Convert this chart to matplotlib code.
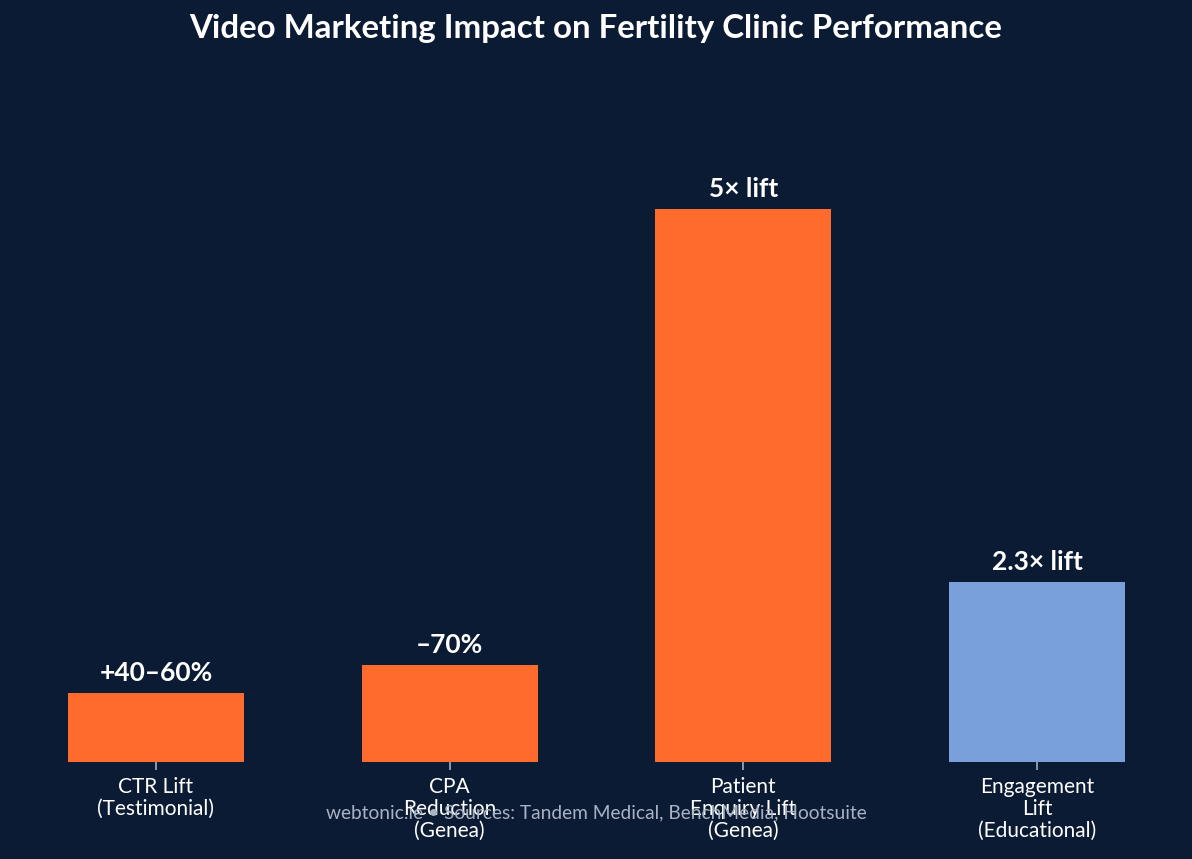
import matplotlib.pyplot as plt

categories = ["CTR Lift\n(Testimonial)", "CPA\nReduction\n(Genea)",
              "Patient\nEnquiry Lift\n(Genea)", "Engagement\nLift\n(Educational)"]
values = [50, 70, 400, 130]
value_labels = ["+40–60%", "–70%", "5× lift", "2.3× lift"]
bar_colors = ["#FF6B2C", "#FF6B2C", "#FF6B2C", "#7AA0DC"]

BG = "#0B1B33"
plt.rcParams["font.family"] = ["Lato", "DejaVu Sans"]

fig = plt.figure(figsize=(11.92, 8.59), dpi=100, facecolor=BG)
ax = fig.add_axes([0.0126, 0.1129, 0.9756, 0.7726])
ax.set_facecolor(BG)

x = range(len(categories))
bars = ax.bar(x, values, width=0.6, color=bar_colors)
ax.set_ylim(0, 480)

for b, lab in zip(bars, value_labels):
    ax.annotate(lab, (b.get_x() + b.get_width() / 2, b.get_height()),
                xytext=(0, 6), textcoords="offset points", ha="center", va="bottom",
                color="white", fontsize=19, fontweight="bold")

ax.set_xticks(list(x))
ax.set_xticklabels(categories, color="white", fontsize=15, linespacing=1.12)
ax.tick_params(axis="x", colors="#A0AEC0", labelcolor="white", length=6, width=1.2, pad=5)
ax.set_yticks([])
for s in ax.spines.values():
    s.set_visible(False)

fig.suptitle("Video Marketing Impact on Fertility Clinic Performance",
             y=0.967, va="center", color="white", fontsize=23.8, fontweight="bold")
fig.text(0.5, 0.0536, "webtonic.ie • Sources: Tandem Medical, BenchMedia, Hootsuite",
         ha="center", va="center", color="#A8B2C4", fontsize=13.8)

fig.savefig("out.png", dpi=100, facecolor=BG)
